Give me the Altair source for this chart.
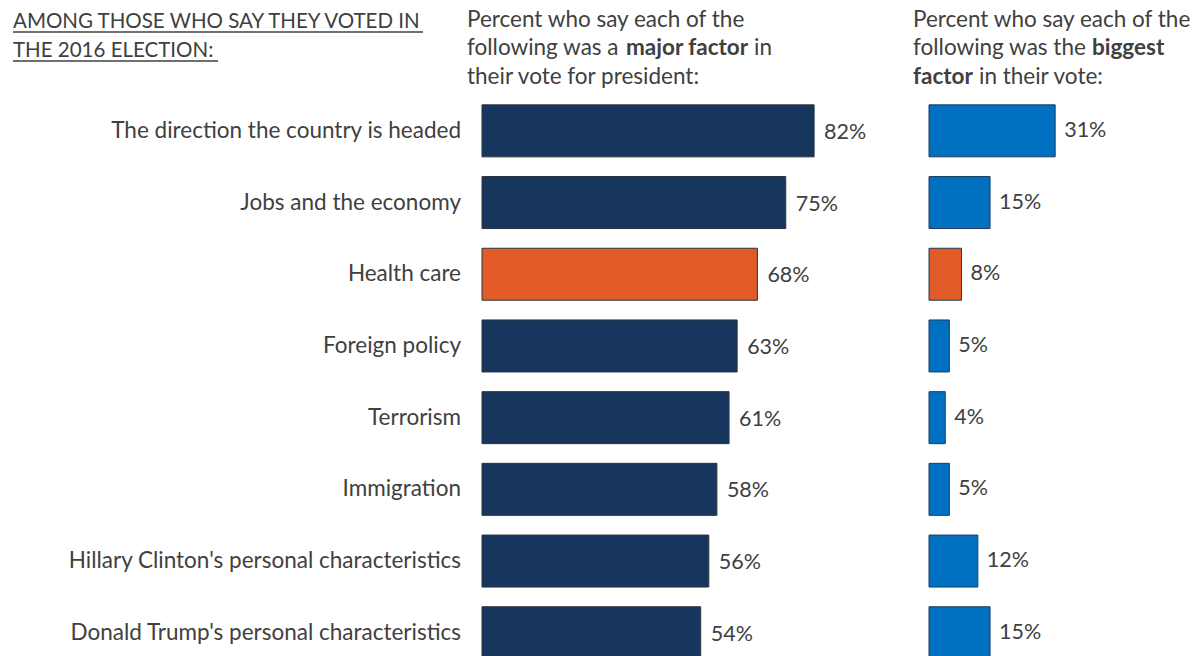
import altair as alt
import pandas as pd

categories = [
    "The direction the country is headed",
    "Jobs and the economy",
    "Health care",
    "Foreign policy",
    "Terrorism",
    "Immigration",
    "Hillary Clinton's personal characteristics",
    "Donald Trump's personal characteristics",
]
major_factor = [82, 75, 68, 63, 61, 58, 56, 54]
biggest_factor = [31, 15, 8, 5, 4, 5, 12, 15]
highlight = "Health care"

df = pd.DataFrame({"cat": categories, "major": major_factor, "biggest": biggest_factor})
df["grp"] = ["hl" if c == highlight else "base" for c in categories]
df["major_lbl"] = [f"{v}%" for v in major_factor]
df["big_lbl"] = [f"{v}%" for v in biggest_factor]

FONT = "Lato"
TXT = "#404040"

y_scale = alt.Scale(domain=categories, range=[95, 668.6], paddingInner=0.275, paddingOuter=0.1375)
xA = alt.Scale(domain=[0, 100], range=[482, 887])
xB = alt.Scale(domain=[0, 100], range=[929, 1336])

Y = alt.Y("cat:N", sort=categories, scale=y_scale, axis=None)

base = alt.Chart(df)

left_bars = base.mark_bar(stroke="#2a3340", strokeWidth=1).encode(
    x=alt.X("major:Q", scale=xA, axis=None),
    y=Y,
    color=alt.Color("grp:N", scale=alt.Scale(domain=["base", "hl"], range=["#17365D", "#E05B26"]), legend=None),
)
left_lbl = base.mark_text(align="left", baseline="middle", dx=10, dy=2, font=FONT, fontSize=21.5, color=TXT).encode(
    x=alt.X("major:Q", scale=xA, axis=None), y=Y, text="major_lbl:N"
)
right_bars = base.mark_bar(stroke="#1d3c5e", strokeWidth=1).encode(
    x=alt.X("biggest:Q", scale=xB, axis=None),
    y=Y,
    color=alt.Color("grp:N", scale=alt.Scale(domain=["base", "hl"], range=["#0070C0", "#E05B26"]), legend=None),
)
right_lbl = base.mark_text(align="left", baseline="middle", dx=9, dy=0, font=FONT, fontSize=21.5, color=TXT).encode(
    x=alt.X("biggest:Q", scale=xB, axis=None), y=Y, text="big_lbl:N"
)
cat_lbl = base.mark_text(align="right", baseline="middle", font=FONT, fontSize=22.5, color=TXT).encode(
    x=alt.value(461), y=Y, text="cat:N"
)

def t(txt, x, y, bold=False, size=22.5):
    return alt.Chart(pd.DataFrame({"t": [txt]})).mark_text(
        align="left", baseline="alphabetic", font=FONT, fontSize=size,
        fontWeight="bold" if bold else "normal", color=TXT
    ).encode(x=alt.value(x), y=alt.value(y), text="t:N")

def rule(x1, x2, y):
    return alt.Chart(pd.DataFrame({"a": [0]})).mark_rule(color=TXT, strokeWidth=1.3).encode(
        x=alt.value(x1), x2=alt.value(x2), y=alt.value(y)
    )

headers = [
    t("AMONG THOSE WHO SAY THEY VOTED IN", 13, 28, size=20.5),
    rule(13, 423, 32),
    t("THE 2016 ELECTION:", 13, 57, size=20.5),
    rule(13, 218, 61),
    t("Percent who say each of the", 467, 27),
    t("following was a", 467, 55),
    t("major factor", 626, 55, bold=True),
    t("in", 754, 55),
    t("their vote for president:", 467, 84),
    t("Percent who say each of the", 913, 27),
    t("following was the", 913, 55),
    t("biggest", 1092, 55, bold=True),
    t("factor", 913, 84, bold=True),
    t("in their vote:", 979, 84),
]

chart = alt.layer(
    left_bars, left_lbl, right_bars, right_lbl, cat_lbl, *headers
).resolve_scale(x="independent", color="independent").properties(
    width=1197, height=656, padding=0, autosize=alt.AutoSizeParams(type="none"), background="white"
).configure_view(stroke=None)

chart.save("out.html", embed_options={"renderer": "svg", "actions": False})
